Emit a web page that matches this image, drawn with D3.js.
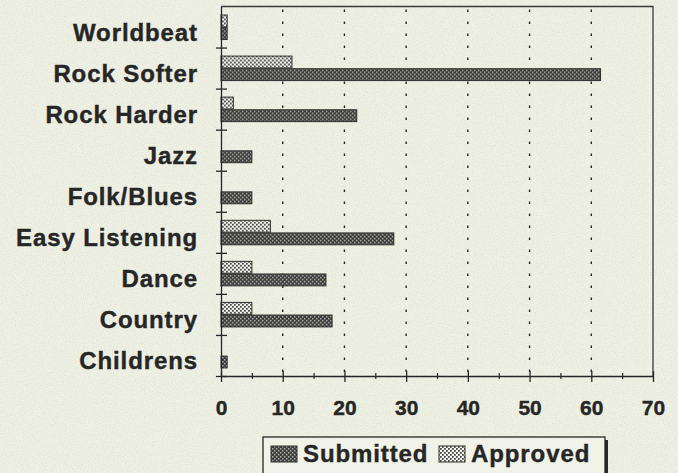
<!DOCTYPE html>
<html>
<head>
<meta charset="utf-8">
<script src="https://cdn.jsdelivr.net/npm/d3@7"></script>
<style>
  html, body { margin: 0; padding: 0; background: #eff1e4; }
  svg { display: block; }
  text { font-family: Arial, "Liberation Sans", Helvetica, sans-serif; font-weight: bold; fill: #262626; }
</style>
</head>
<body>
<div id="chart"></div>
<script>
// data, top to bottom
var categories = ["Worldbeat", "Rock Softer", "Rock Harder", "Jazz", "Folk/Blues",
                  "Easy Listening", "Dance", "Country", "Childrens"];
var submitted = [1, 61.5, 22, 5, 5, 28, 17, 18, 1];
var approved  = [1, 11.5, 2, 0, 0, 8, 5, 5, 0];
var series = ["Approved", "Submitted"];
var xMajor = [0, 10, 20, 30, 40, 50, 60, 70];
var xMinor = [5, 15, 25, 35, 45, 55, 65];

var W = 678, H = 473;
var plot = {left: 221, right: 653, top: 6.5, bottom: 376};
var ink = "#262626";

var svg = d3.select("#chart").append("svg")
    .attr("width", W)
    .attr("height", H);

var defs = svg.append("defs");

// dotted fills like the old printer patterns
var pSub = defs.append("pattern").attr("id", "pSub")
    .attr("width", 4).attr("height", 4).attr("patternUnits", "userSpaceOnUse");
pSub.append("rect").attr("width", 4).attr("height", 4).attr("fill", "#3c3c3c");
pSub.append("rect").attr("x", 0).attr("y", 0).attr("width", 1.5).attr("height", 1.5).attr("fill", "#aeaea6");
pSub.append("rect").attr("x", 2).attr("y", 2).attr("width", 1.5).attr("height", 1.5).attr("fill", "#aeaea6");

var pApp = defs.append("pattern").attr("id", "pApp")
    .attr("width", 4).attr("height", 4).attr("patternUnits", "userSpaceOnUse");
pApp.append("rect").attr("width", 4).attr("height", 4).attr("fill", "#f4f4ee");
pApp.append("rect").attr("x", 0).attr("y", 0).attr("width", 1.8).attr("height", 1.8).attr("fill", "#4a4a4a");
pApp.append("rect").attr("x", 2).attr("y", 2).attr("width", 1.8).attr("height", 1.8).attr("fill", "#4a4a4a");

// paper speckle
var f = defs.append("filter").attr("id", "paper").attr("x", 0).attr("y", 0).attr("width", 1).attr("height", 1);
f.append("feTurbulence").attr("type", "fractalNoise").attr("baseFrequency", 0.9)
    .attr("numOctaves", 2).attr("seed", 3);
f.append("feColorMatrix").attr("type", "matrix")
    .attr("values", "0 0 0 0 0.55  0 0 0 0 0.58  0 0 0 0 0.5  0 0 0 -2.2 1.25");

svg.append("rect").attr("width", W).attr("height", H).attr("fill", "#eff1e4");
svg.append("rect").attr("width", W).attr("height", H).attr("filter", "url(#paper)").attr("opacity", 0.35);

var fillOf = {Submitted: "url(#pSub)", Approved: "url(#pApp)"};

// scales
var x = d3.scaleLinear().domain([0, 70]).range([plot.left, plot.right]);
var y = d3.scaleBand().domain(categories).range([plot.top, plot.bottom]);
var bw = y.bandwidth();
var yInner = d3.scaleBand().domain(series)
    .range([bw / 2 - 12, bw / 2 + 12.5]).paddingInner(0.06);
var yEdge = d3.scaleLinear().domain([0, categories.length]).range([plot.bottom, plot.top]);

// gridlines
svg.append("g")
  .selectAll("line")
  .data(xMajor.slice(1, -1))
  .enter().append("line")
    .attr("x1", function(d) { return x(d); })
    .attr("x2", function(d) { return x(d); })
    .attr("y1", plot.top + 3)
    .attr("y2", plot.bottom)
    .attr("stroke", ink)
    .attr("stroke-width", 1.4)
    .attr("stroke-dasharray", "2.5,9.5");

// frame top and right
svg.append("path")
    .attr("d", "M" + plot.left + "," + plot.top + "H" + plot.right + "V" + plot.bottom)
    .attr("fill", "none")
    .attr("stroke", "#3a3a3a")
    .attr("stroke-width", 1.3);

// bars
var rows = categories.map(function(c, i) {
  return {cat: c, vals: [{s: "Approved", v: approved[i]}, {s: "Submitted", v: submitted[i]}]};
});

var group = svg.append("g").selectAll("g")
    .data(rows)
    .enter().append("g")
    .attr("transform", function(d) { return "translate(0," + y(d.cat) + ")"; });

group.selectAll("rect")
    .data(function(d) { return d.vals.filter(function(e) { return e.v > 0; }); })
    .enter().append("rect")
    .attr("x", x(0))
    .attr("y", function(d) { return yInner(d.s); })
    .attr("width", function(d) { return x(d.v) - x(0); })
    .attr("height", yInner.bandwidth())
    .attr("fill", function(d) { return fillOf[d.s]; })
    .attr("stroke", "#2e2e2e")
    .attr("stroke-width", 1);

// y axis, ticks sit between categories
var yAxis = svg.append("g")
    .attr("transform", "translate(" + plot.left + ",0)")
    .call(d3.axisLeft(yEdge).tickValues(d3.range(0, categories.length)).tickFormat("").tickSize(5).tickSizeOuter(0));
yAxis.select(".domain").attr("stroke", ink).attr("stroke-width", 1.3);
yAxis.selectAll(".tick line").attr("x2", 6).attr("x1", -5).attr("stroke", ink).attr("stroke-width", 1.3);

svg.append("g").selectAll("text")
    .data(categories)
    .enter().append("text")
    .attr("x", 198)
    .attr("y", function(d) { return y(d) + bw / 2 + 14; })
    .attr("text-anchor", "end")
    .style("font-size", "24px")
    .style("letter-spacing", "0.9px")
    .style("stroke", "#262626")
    .style("stroke-width", "0.4px")
    .text(function(d) { return d; });

// x axis
var xAxis = svg.append("g")
    .attr("transform", "translate(0," + plot.bottom + ")")
    .call(d3.axisBottom(x).tickValues(xMajor).tickSize(6).tickPadding(18).tickSizeOuter(0));
xAxis.select(".domain").attr("stroke", ink).attr("stroke-width", 1.3);
xAxis.selectAll(".tick line").attr("y1", -5).attr("stroke", ink).attr("stroke-width", 1.3);
xAxis.selectAll(".tick text")
    .style("font-size", "21px")
    .style("font-family", "Arial, 'Liberation Sans', sans-serif")
    .style("font-weight", "bold")
    .style("stroke", "#262626")
    .style("stroke-width", "0.4px")
    .attr("fill", ink);

var xMinorAxis = svg.append("g")
    .attr("transform", "translate(0," + plot.bottom + ")")
    .call(d3.axisBottom(x).tickValues(xMinor).tickSize(3).tickFormat("").tickSizeOuter(0));
xMinorAxis.select(".domain").remove();
xMinorAxis.selectAll(".tick line").attr("y1", -3).attr("stroke", ink).attr("stroke-width", 1.2);

// legend
var legend = svg.append("g");
legend.append("rect")
    .attr("x", 266).attr("y", 440).attr("width", 342).attr("height", 60)
    .attr("fill", "#2a2a2a");
legend.append("rect")
    .attr("x", 263).attr("y", 437).attr("width", 342).attr("height", 60)
    .attr("fill", "#f2f3e8")
    .attr("stroke", ink)
    .attr("stroke-width", 1.3);

var legendItems = [{s: "Submitted", x: 271}, {s: "Approved", x: 439}];
legendItems.forEach(function(d) {
  legend.append("rect")
      .attr("x", d.x).attr("y", 446).attr("width", 26).attr("height", 16)
      .attr("fill", fillOf[d.s])
      .attr("stroke", "#2e2e2e");
  legend.append("text")
      .attr("x", d.x + 32).attr("y", 462)
      .style("font-size", "24px")
      .style("letter-spacing", "0.9px")
      .style("stroke", "#262626")
      .style("stroke-width", "0.4px")
      .text(d.s);
});
</script>
</body>
</html>
